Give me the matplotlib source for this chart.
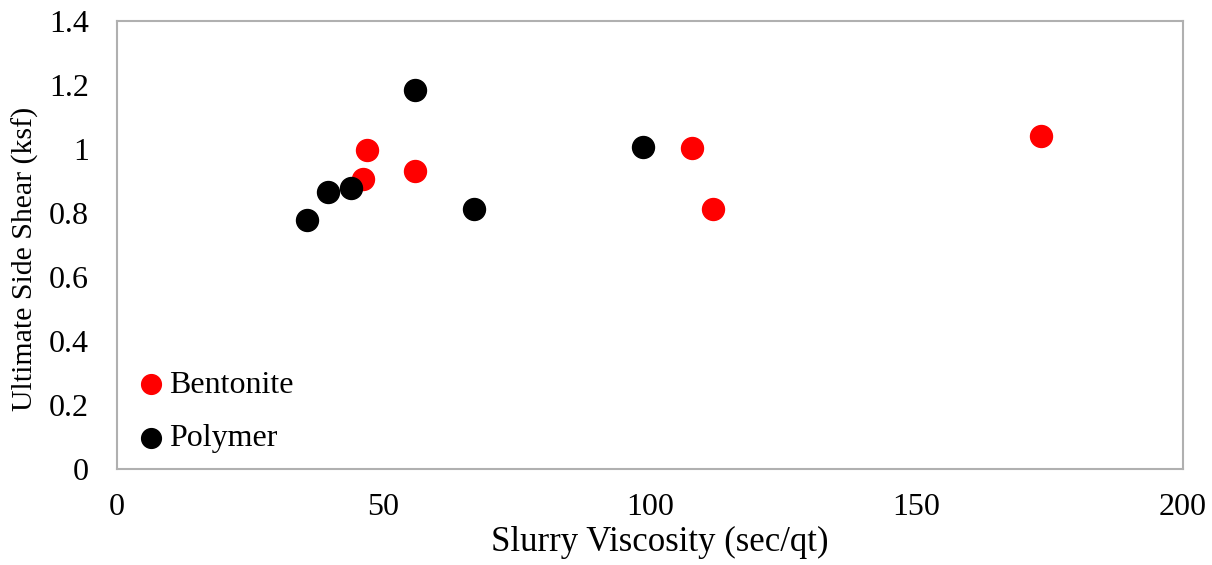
import matplotlib.pyplot as plt

plt.rcParams['font.family'] = ['Liberation Serif', 'DejaVu Serif']

# data
bentonite_x = [46.2, 46.9, 55.9, 107.9, 111.8, 173.4]
bentonite_y = [0.905, 0.997, 0.932, 1.002, 0.812, 1.040]
polymer_x = [35.6, 39.6, 43.9, 55.9, 67.0, 98.7]
polymer_y = [0.779, 0.867, 0.879, 1.183, 0.812, 1.005]

fig = plt.figure(figsize=(12.12, 5.65), dpi=100)
ax = fig.add_axes([117/1212, 1 - 469/565, (1183-117)/1212, (469-21)/565])

ax.scatter(bentonite_x, bentonite_y, s=250, c="#ff0000", label="Bentonite", zorder=3)
ax.scatter(polymer_x, polymer_y, s=250, c="black", label="Polymer", zorder=3)

ax.set_xlim(0, 200)
ax.set_ylim(0, 1.4)
ax.set_xticks([0, 50, 100, 150, 200])
ax.set_yticks([0, 0.2, 0.4, 0.6, 0.8, 1.0, 1.2, 1.4])
ax.set_yticklabels(["0", "0.2", "0.4", "0.6", "0.8", "1", "1.2", "1.4"])
ax.tick_params(length=0, labelsize=23)
ax.tick_params(axis="y", pad=20)
ax.tick_params(axis="x", pad=17)
for sp in ax.spines.values():
    sp.set_color("#b0b0b0")
    sp.set_linewidth(1.5)

ax.set_xlabel("Slurry Viscosity (sec/qt)", size=25)
ax.set_ylabel("Ultimate Side Shear (ksf)", size=21.5)
ax.xaxis.set_label_coords(0.509, -0.128)
ax.yaxis.set_label_coords(-0.073, 0.469)

leg = ax.legend(loc="lower left", frameon=False, fontsize=23, markerscale=0.9,
                handletextpad=-0.45, labelspacing=0.75, borderaxespad=0.0,
                bbox_to_anchor=(-0.01, 0.007))

fig.savefig("out.png", dpi=100)
